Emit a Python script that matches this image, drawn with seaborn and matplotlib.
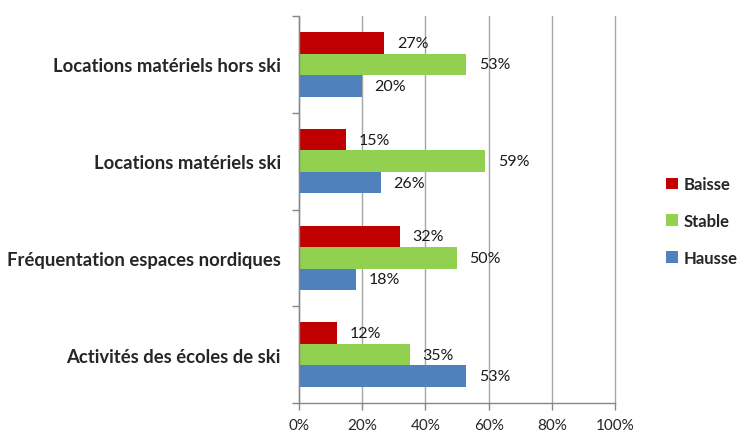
import matplotlib
matplotlib.use("Agg")
import matplotlib.pyplot as plt
import matplotlib.transforms as mtransforms
import seaborn as sns
import pandas as pd
import numpy as np
from matplotlib.ticker import FixedLocator

categories = ["Locations matériels hors ski", "Locations matériels ski",
              "Fréquentation espaces nordiques", "Activités des écoles de ski"]
series = ["Baisse", "Stable", "Hausse"]
baisse = [27, 15, 32, 12]
stable = [53, 59, 50, 35]
hausse = [20, 26, 18, 53]
colors = {"Baisse": "#C00000", "Stable": "#92D050", "Hausse": "#4F81BD"}
xticks = [0, 20, 40, 60, 80, 100]

rows = []
for s, vals in zip(series, [baisse, stable, hausse]):
    for c, v in zip(categories, vals):
        rows.append({"cat": c, "serie": s, "val": v})
df = pd.DataFrame(rows)

sns.set_style("white")
plt.rcParams["font.family"] = ["Lato", "DejaVu Sans"]

fig = plt.figure(figsize=(7.43, 4.35), dpi=100)
ax = fig.add_axes([299/743, 1-404/435, (615-299)/743, (404-17)/435])

sns.barplot(data=df, y="cat", x="val", hue="serie", order=categories,
            hue_order=series, palette=colors, orient="h", width=0.667,
            gap=0, saturation=1, ax=ax, errorbar=None, legend=True,
            linewidth=0)

shift = mtransforms.ScaledTranslation(0, -2/100, fig.dpi_scale_trans)
for cont, s in zip(ax.containers, series):
    vals = df[df.serie == s].set_index("cat").loc[categories, "val"].tolist()
    txts = ax.bar_label(cont, labels=[f"{v}%" for v in vals], padding=9,
                        fontsize=11.5, color="#1a1a1a")
    for t in txts:
        t.set_transform(t.get_transform() + shift)

ax.set_xlim(0, 100)
ax.set_ylim(3.5, -0.5)
ax.set_xticks(xticks)
ax.set_xticklabels([f"{t}%" for t in xticks], fontsize=11)
ax.set_yticks(range(len(categories)))
ax.set_yticklabels(categories, fontsize=13.3, fontweight="bold")
ax.yaxis.set_minor_locator(FixedLocator([-0.5, 0.5, 1.5, 2.5, 3.5]))
ax.tick_params(axis="y", which="major", length=0, pad=13)
ax.tick_params(axis="y", which="minor", length=5, color="#868686", width=1, left=True)
ax.tick_params(axis="x", which="major", length=5, color="#868686", width=1, bottom=True, pad=6)
ax.set_xlabel("")
ax.set_ylabel("")
ax.grid(axis="x", color="#A6A6A6", linewidth=1)
for gl in ax.get_xgridlines():
    gl.set_clip_on(False)
ax.set_axisbelow(True)
for sp in ["top", "right"]:
    ax.spines[sp].set_visible(False)
for sp in ["left", "bottom"]:
    ax.spines[sp].set_color("#868686")
    ax.spines[sp].set_linewidth(1)

handles, labels = ax.get_legend_handles_labels()
ax.legend(handles, labels, loc="center left", bbox_to_anchor=(666/743, 1-222/435),
          bbox_transform=fig.transFigure, frameon=False, handlelength=0.7,
          handleheight=0.7, handletextpad=0.35, labelspacing=1.25,
          borderpad=0, borderaxespad=0,
          prop={"weight": "bold", "size": 12})

fig.savefig("out.png", dpi=100)
